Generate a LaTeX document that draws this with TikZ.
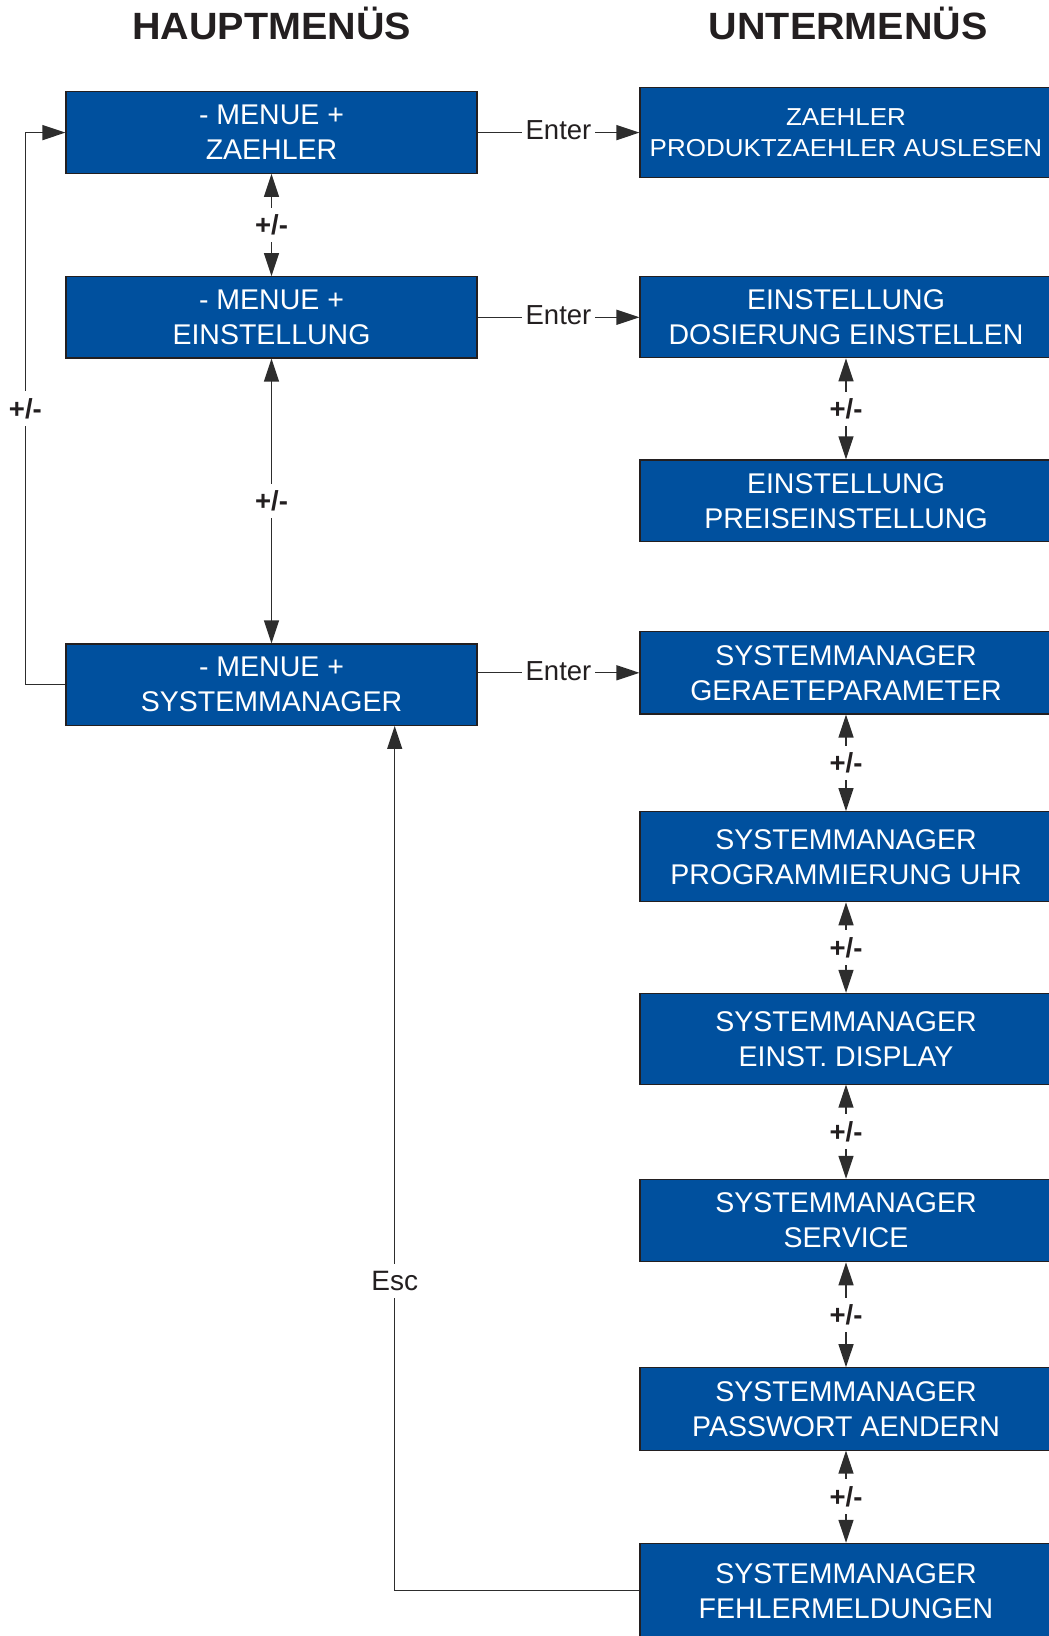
\documentclass[tikz,border=0pt]{standalone}
\usepackage{fontspec}
\setmainfont{Liberation Sans}
\newfontfamily\titlefont[FakeStretch=1.04]{Liberation Sans}
\newfontfamily\widefont[FakeStretch=1.06]{Liberation Sans}
\usetikzlibrary{arrows.meta}

\definecolor{menublue}{RGB}{0,80,158}
\definecolor{ink}{RGB}{35,31,32}
\definecolor{wire}{RGB}{45,45,45}

\tikzset{
  >={Triangle[length=23pt,width=15pt]},
  menubox/.style={draw=ink, line width=1.1pt, fill=menublue, text=white,
    inner sep=0pt, align=center, font=\fontsize{28.5}{35}\selectfont},
  mainbox/.style={menubox, minimum width=411pt, minimum height=81.4pt},
  subbox/.style={menubox, minimum width=412pt},
  conn/.style={draw=wire, line width=1.3pt},
  lbl/.style={fill=white, text=ink, inner xsep=3.5pt, inner ysep=7pt},
  pm/.style={lbl, font=\fontsize{27.5}{30}\selectfont\bfseries},
  key/.style={lbl, font=\fontsize{27.5}{30}\selectfont},
  heading/.style={anchor=base, text=ink, inner sep=0pt,
    font=\titlefont\fontsize{38}{42}\selectfont\bfseries},
}

\begin{document}
\begin{tikzpicture}[x=1pt,y=-1pt]
\useasboundingbox (0,0) rectangle (1049,1636);

% column headings
\node[heading] (h1) at (271.7,39.8) {HAUPTMENÜS};
\node[heading] (h2) at (848.3,39.8) {UNTERMENÜS};

% main menus
\node[mainbox] (m1) at (271.5,132.6) {- MENUE +\\ZAEHLER};
\node[mainbox] (m2) at (271.5,317.3) {- MENUE +\\EINSTELLUNG};
\node[mainbox] (m3) at (271.5,684.7) {- MENUE +\\SYSTEMMANAGER};

% sub menus
\node[subbox, minimum height=90.4pt, font=\widefont\fontsize{24.5}{31}\selectfont]
  (r1) at (846,132.5) {ZAEHLER\\PRODUKTZAEHLER AUSLESEN};
\node[subbox, minimum height=81.7pt] (r2) at (846,316.9) {EINSTELLUNG\\DOSIERUNG EINSTELLEN};
\node[subbox, minimum height=81.7pt] (r3) at (846,500.8) {EINSTELLUNG\\PREISEINSTELLUNG};
\node[subbox, minimum height=82.3pt] (r4) at (846,672.8) {SYSTEMMANAGER\\GERAETEPARAMETER};
\node[subbox, minimum height=90pt]   (r5) at (846,856.7) {SYSTEMMANAGER\\PROGRAMMIERUNG UHR};
\node[subbox, minimum height=90.7pt] (r6) at (846,1038.7) {SYSTEMMANAGER\\EINST. DISPLAY};
\node[subbox, minimum height=82.4pt] (r7) at (846,1220.5) {SYSTEMMANAGER\\SERVICE};
\node[subbox, minimum height=82.3pt] (r8) at (846,1408.9) {SYSTEMMANAGER\\PASSWORT AENDERN};
\node[subbox, minimum height=94.8pt] (r9) at (846,1590.7) {SYSTEMMANAGER\\FEHLERMELDUNGEN};

% Enter: main menu -> first sub menu
\draw[conn,->] (m1.east) -- node[key,yshift=2pt]{Enter} (m1.east -| r1.west);
\draw[conn,->] (m2.east) -- node[key,yshift=2pt]{Enter} (m2.east -| r2.west);
\draw[conn,->] (m3.east |- r4.west) -- node[key,yshift=2pt]{Enter} (r4.west);

% +/- between main menus
\draw[conn,<->] (m1.south) -- node[pm]{+/-} (m2.north);
\draw[conn,<->] (m2.south) -- node[pm]{+/-} (m3.north);
\coordinate (loopx) at (25.4,0);
\draw[conn,->] (m3.west) -- (m3.west -| loopx) -- node[pm]{+/-} (m1.west -| loopx) -- (m1.west);

% +/- between sub menus
\draw[conn,<->] (r2.south) -- node[pm]{+/-} (r3.north);
\draw[conn,<->] (r4.south) -- node[pm]{+/-} (r5.north);
\draw[conn,<->] (r5.south) -- node[pm]{+/-} (r6.north);
\draw[conn,<->] (r6.south) -- node[pm]{+/-} (r7.north);
\draw[conn,<->] (r7.south) -- node[pm]{+/-} (r8.north);
\draw[conn,<->] (r8.south) -- node[pm]{+/-} (r9.north);

% Esc back to the system manager
\coordinate (escx) at (394.7,0);
\draw[conn,->] (r9.west) -- (r9.west -| escx) -- node[key,pos=0.358,font=\fontsize{28}{30}\selectfont]{Esc} (escx |- m3.south);
\end{tikzpicture}
\end{document}
